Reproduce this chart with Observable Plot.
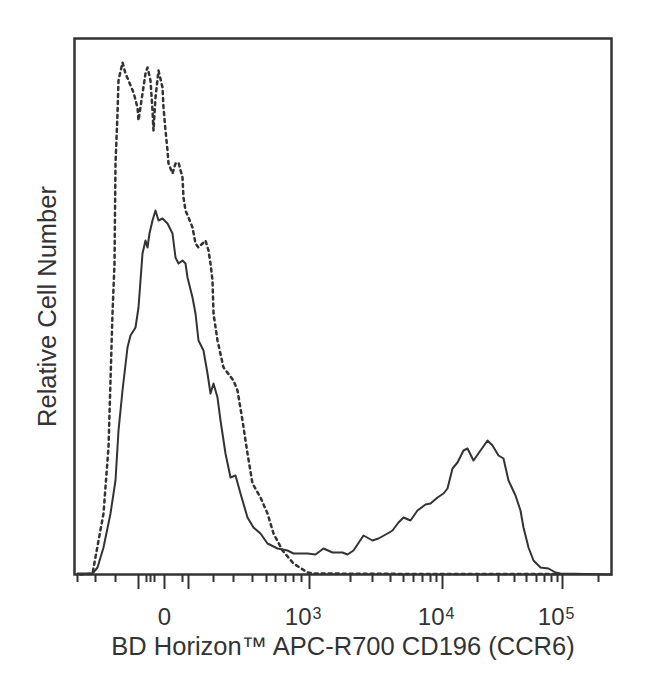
<!DOCTYPE html>
<html><head><meta charset="utf-8">
<script src="https://cdn.jsdelivr.net/npm/d3@7"></script>
<script src="https://cdn.jsdelivr.net/npm/@observablehq/plot@0.6"></script>
<style>body{margin:0;background:#fff}svg{display:block}</style>
</head><body><div id="chart"></div>
<script>
// x values are display channels (0–1074), y values relative cell counts
const dashedCh = [12, 36, 58, 68, 72, 76, 80, 82, 86, 88, 96, 102, 108, 118, 126, 128, 136, 142, 146, 152, 156, 158, 162, 168, 176, 178, 182, 186, 188, 196, 202, 208, 216, 218, 222, 228, 236, 242, 248, 256, 262, 268, 272, 276, 278, 286, 298, 318, 326, 336, 346, 356, 372, 386, 398, 416, 438, 466, 478, 652, 962];
const dashedCount = [0, 0.5, 30.5, 63.5, 97, 130.5, 155.5, 205.5, 230.5, 247, 256, 250.5, 247, 241, 233.5, 227, 240.5, 250.5, 253.5, 247, 232, 222, 238.5, 252, 243.5, 233.5, 222, 212, 205.5, 200.5, 205.5, 206, 198.5, 188.5, 182, 178.5, 173.5, 165.5, 163.5, 165.5, 167, 162, 155.5, 147, 130.5, 117, 103.5, 97, 92, 77, 60.5, 45.5, 38.5, 30.5, 20.5, 12, 5.5, 1, 0.5, 0.3, 0.3];

const solidCh = [6, 36, 46, 58, 72, 82, 88, 96, 106, 112, 122, 128, 132, 136, 142, 146, 150, 156, 162, 168, 176, 186, 196, 202, 208, 216, 222, 226, 236, 242, 248, 258, 266, 272, 278, 286, 292, 302, 312, 322, 332, 346, 358, 372, 386, 406, 426, 438, 466, 482, 498, 516, 536, 546, 558, 578, 596, 608, 626, 636, 648, 658, 672, 686, 702, 712, 726, 738, 746, 756, 766, 778, 786, 798, 812, 826, 836, 848, 858, 868, 882, 892, 898, 908, 918, 932, 948, 962, 972, 1074];
const solidCount = [0.5, 0.5, 3.5, 13.5, 30.5, 47, 72, 92, 113.5, 119.5, 123.5, 133.5, 147, 160.5, 167, 163.5, 170.5, 177, 182, 177, 178, 175.5, 170.5, 158.5, 155.5, 157, 155.5, 148.5, 138.5, 130.5, 117, 112, 100.5, 90.5, 95.5, 88.5, 77, 60.5, 48.5, 49.5, 40.5, 28.5, 23.5, 20.5, 15.5, 13, 12, 10.5, 10.5, 10, 13, 11, 11, 10, 12, 19.5, 17, 18, 20.5, 22, 26, 28.5, 27, 32, 35, 35.5, 38.5, 40.5, 43, 53, 56, 62, 63, 57, 62, 67, 64.5, 59.5, 58, 47, 39.5, 32, 23.5, 13.5, 7, 3.5, 3, 1, 0.5, 0];

// axis ticks (display channels)
const longTickCh = [128, 180, 228, 470, 736, 976];
const shortTickCh = [6, 42, 82, 144, 152, 160, 216, 278, 318, 356, 384, 402, 422, 438, 454, 552, 596, 632, 658, 678, 696, 712, 724, 806, 848, 880, 904, 924, 940, 954, 966, 1048];
const labelTickCh = [180, 470, 736, 976];
const tickBase = ["0", "10", "10", "10"];
const tickExp = ["", "3", "4", "5"];

const xTitle = "BD Horizon™ APC-R700 CD196 (CCR6)";
const yTitle = "Relative Cell Number";

const dashed = dashedCh.map((c, i) => ({ch: c, n: dashedCount[i]}));
const solid = solidCh.map((c, i) => ({ch: c, n: solidCount[i]}));
const labels = labelTickCh.map((c, i) => ({ch: c, base: tickBase[i], exp: tickExp[i]}));
const ink = "#333";

const chart = Plot.plot({
  width: 650,
  height: 695,
  marginLeft: 74,
  marginRight: 39,
  marginTop: 38,
  marginBottom: 121,
  style: {fontFamily: "'Liberation Sans', Arial, sans-serif", background: "#fff", color: ink},
  x: {domain: [0, 1074], axis: null},
  y: {domain: [0, 268], axis: null},
  marks: [
    Plot.line(dashed, {x: "ch", y: "n", stroke: ink, strokeWidth: 2.5, strokeDasharray: "3,4"}),
    Plot.line(solid, {x: "ch", y: "n", stroke: ink, strokeWidth: 2}),
    Plot.axisX({ticks: shortTickCh, tickSize: 8, tickFormat: () => "", label: null, stroke: ink, strokeWidth: 2}),
    Plot.axisX({ticks: longTickCh, tickSize: 15, tickFormat: () => "", label: null, stroke: ink, strokeWidth: 2}),
    Plot.text(labels.filter(d => d.exp === ""), {x: "ch", text: "base", frameAnchor: "bottom", lineAnchor: "middle", textAnchor: "middle", dy: 43, fontSize: 24, fill: ink}),
    Plot.text(labels.filter(d => d.exp !== ""), {x: "ch", text: "base", frameAnchor: "bottom", lineAnchor: "middle", dy: 43, dx: 2, textAnchor: "end", fontSize: 24, fill: ink}),
    Plot.text(labels.filter(d => d.exp !== ""), {x: "ch", text: "exp", frameAnchor: "bottom", lineAnchor: "middle", dy: 39, dx: 3, textAnchor: "start", fontSize: 16, fill: ink}),
    Plot.text([xTitle], {frameAnchor: "bottom", lineAnchor: "middle", textAnchor: "middle", dy: 72, fontSize: 25.5, fill: ink}),
    Plot.text([yTitle], {frameAnchor: "left", lineAnchor: "middle", textAnchor: "middle", dx: -27, rotate: -90, fontSize: 25.5, fill: ink}),
    Plot.frame({stroke: ink, strokeWidth: 2.5})
  ]
});
document.getElementById("chart").append(chart);
</script>
</body></html>
